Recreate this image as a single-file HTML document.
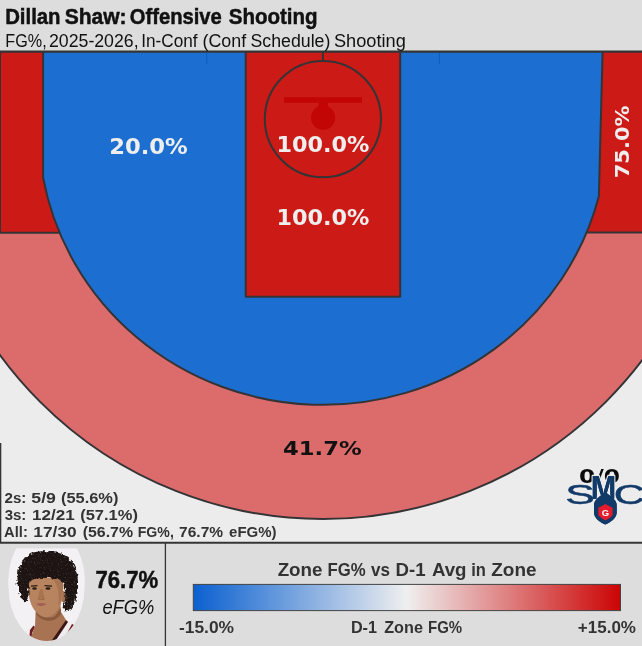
<!DOCTYPE html>
<html><head><meta charset="utf-8">
<style>
html,body{margin:0;padding:0;}
body{width:642px;height:646px;background:#dddddd;overflow:hidden;font-family:"Liberation Sans",sans-serif;}
svg{display:block;position:absolute;left:0;top:0;}
.r{font-family:"Liberation Sans",sans-serif;}
.d{font-family:"DejaVu Sans","Liberation Sans",sans-serif;font-weight:bold;}
</style></head><body>
<svg width="642" height="646" viewBox="0 0 642 646">
  <defs>
    <clipPath id="cc"><rect x="0" y="51" width="642" height="492"/></clipPath>
    <linearGradient id="cb" x1="0" x2="1" y1="0" y2="0">
      <stop offset="0" stop-color="#0a60d0"/>
      <stop offset="0.5" stop-color="#efefef"/>
      <stop offset="1" stop-color="#cc0404"/>
    </linearGradient>
    <clipPath id="face"><path d="M16.400,548.200 L76.800,548.200 A38,54 0 0 1 84.600,587 A38,54 0 0 1 46.500,641 A38,54 0 0 1 8.500,587 A38,54 0 0 1 16.400,548.200 Z"/></clipPath>
    <filter id="curl" x="-20%" y="-20%" width="140%" height="140%" color-interpolation-filters="sRGB"><feTurbulence type="fractalNoise" baseFrequency="0.35" numOctaves="2" seed="3" result="n"/><feDisplacementMap in="SourceGraphic" in2="n" scale="5" xChannelSelector="R" yChannelSelector="G" result="d"/><feTurbulence type="fractalNoise" baseFrequency="0.7" numOctaves="2" seed="8" result="n2"/><feColorMatrix in="n2" type="matrix" values="0 0 0 0 0.27  0 0 0 0 0.2  0 0 0 0 0.17  0 0 0 4 -2.25" result="sp"/><feComposite in="sp" in2="d" operator="in" result="s2"/><feMerge><feMergeNode in="d"/><feMergeNode in="s2"/></feMerge></filter>
    <filter id="soft" x="-5%" y="-5%" width="110%" height="110%"><feGaussianBlur stdDeviation="0.45"/></filter>
  </defs>
  <rect x="0" y="0" width="642" height="646" fill="#dddddd"/>
  <rect x="0" y="51" width="642" height="492" fill="#ececec"/>
  <g clip-path="url(#cc)" stroke="#343436" stroke-width="2" stroke-linejoin="round">
    <!-- outer 3pt zone -->
    <circle cx="323" cy="119" r="400" fill="#dc6c6c"/>
    <rect x="-5" y="40" width="652" height="193" fill="#dc6c6c" stroke="none"/>
    <!-- corners -->
    <rect x="-5" y="40" width="80" height="192.700" fill="#cc1a16"/>
    <rect x="570" y="40" width="80" height="192.400" fill="#cc1a16"/>
    <!-- mid-range (blue) -->
    <path d="M43.100,40 L43.100,177.600 A284.519,276.655 0 0 0 598.850,196.140 L602.900,40 Z" fill="#1c6fd0"/>
    <!-- paint -->
    <rect x="245.700" y="40" width="154.500" height="256.800" fill="#cc1a16"/>
    <circle cx="322.900" cy="119.100" r="58.100" fill="#cc1a16"/>
    <line x1="322.900" y1="52" x2="322.900" y2="61"/>
    <line x1="206.800" y1="52" x2="206.800" y2="64.400" stroke="#0f5cbc" stroke-width="1"/>
    <line x1="439.400" y1="52" x2="439.400" y2="64.400" stroke="#0f5cbc" stroke-width="1"/>
  </g>
  <!-- hoop -->
  <g fill="#c20505" stroke="none">
    <rect x="284" y="97.200" width="78" height="5.600"/>
    <rect x="318.400" y="100" width="9.400" height="8"/>
    <circle cx="323.100" cy="117.700" r="12.100"/>
  </g>
  <line x1="0" y1="51.700" x2="642" y2="51.700" stroke="#343436" stroke-width="2.300"/>
  <line x1="0.100" y1="52" x2="0.100" y2="233" stroke="#333" stroke-width="1.800"/>
  <line x1="0.300" y1="443" x2="0.300" y2="543" stroke="#343436" stroke-width="2"/>
  <line x1="0" y1="542.750" x2="642" y2="542.750" stroke="#343436" stroke-width="1.900"/>
  <line x1="165.400" y1="543" x2="165.400" y2="646" stroke="#343436" stroke-width="1.300"/>

  <g class="d" text-anchor="middle" fill="#eeeeee" lengthAdjust="spacingAndGlyphs">
    <text x="148.450" y="154.300" font-size="21" textLength="78.600" lengthAdjust="spacingAndGlyphs">20.0%</text>
    <text x="322.950" y="151.500" font-size="20.500" textLength="93" lengthAdjust="spacingAndGlyphs">100.0%</text>
    <text x="322.950" y="225.100" font-size="20.500" textLength="93" lengthAdjust="spacingAndGlyphs">100.0%</text>
    <text transform="translate(629.300,141.850) rotate(-90)" font-size="20.300" textLength="72.800" lengthAdjust="spacingAndGlyphs">75.0%</text>
    <text x="322.300" y="454.900" font-size="20.200" fill="#111" textLength="78.600" lengthAdjust="spacingAndGlyphs">41.7%</text>
  </g>

  <!-- titles -->
  <g class="r">
    <text x="5.14" y="23.7" font-size="22.1" font-weight="bold" fill="#111" stroke="#111" stroke-width="0.5" textLength="55.42" lengthAdjust="spacingAndGlyphs">Dillan</text>
    <text x="64.69" y="23.7" font-size="22.1" font-weight="bold" fill="#111" stroke="#111" stroke-width="0.5" textLength="61.93" lengthAdjust="spacingAndGlyphs">Shaw:</text>
    <text x="129.77" y="23.7" font-size="22.1" font-weight="bold" fill="#111" stroke="#111" stroke-width="0.5" textLength="92.02" lengthAdjust="spacingAndGlyphs">Offensive</text>
    <text x="228.71" y="23.7" font-size="22.1" font-weight="bold" fill="#111" stroke="#111" stroke-width="0.5" textLength="88.97" lengthAdjust="spacingAndGlyphs">Shooting</text>
    <text x="5.37" y="46.7" font-size="18.9" fill="#111" textLength="41.28" lengthAdjust="spacingAndGlyphs">FG%,</text>
    <text x="49.01" y="46.7" font-size="18.9" fill="#111" textLength="89.58" lengthAdjust="spacingAndGlyphs">2025-2026,</text>
    <text x="141.22" y="46.7" font-size="18.9" fill="#111" textLength="56.26" lengthAdjust="spacingAndGlyphs">In-Conf</text>
    <text x="202.49" y="46.7" font-size="18.9" fill="#111" textLength="43.78" lengthAdjust="spacingAndGlyphs">(Conf</text>
    <text x="250.49" y="46.7" font-size="18.9" fill="#111" textLength="79.91" lengthAdjust="spacingAndGlyphs">Schedule)</text>
    <text x="333.97" y="46.7" font-size="18.9" fill="#111" textLength="71.80" lengthAdjust="spacingAndGlyphs">Shooting</text>
    <text x="95.45" y="587.9" font-size="24.5" font-weight="bold" fill="#111" stroke="#111" stroke-width="0.5" textLength="62.73" lengthAdjust="spacingAndGlyphs">76.7%</text>
    <text x="102.38" y="614.4" font-size="20.3" font-style="italic" fill="#111" textLength="51.91" lengthAdjust="spacingAndGlyphs">eFG%</text>
    <text x="4.48" y="503.2" font-size="14.3" font-weight="bold" fill="#333" textLength="21.88" lengthAdjust="spacingAndGlyphs">2s:</text>
    <text x="31.36" y="503.2" font-size="14.3" font-weight="bold" fill="#333" textLength="24.60" lengthAdjust="spacingAndGlyphs">5/9</text>
    <text x="60.98" y="503.2" font-size="14.3" font-weight="bold" fill="#333" textLength="57.43" lengthAdjust="spacingAndGlyphs">(55.6%)</text>
    <text x="4.66" y="520.2" font-size="14.3" font-weight="bold" fill="#333" textLength="21.69" lengthAdjust="spacingAndGlyphs">3s:</text>
    <text x="32.02" y="520.2" font-size="14.3" font-weight="bold" fill="#333" textLength="42.75" lengthAdjust="spacingAndGlyphs">12/21</text>
    <text x="80.18" y="520.2" font-size="14.3" font-weight="bold" fill="#333" textLength="57.74" lengthAdjust="spacingAndGlyphs">(57.1%)</text>
    <text x="4.13" y="537.3" font-size="14.3" font-weight="bold" fill="#333" textLength="23.68" lengthAdjust="spacingAndGlyphs">All:</text>
    <text x="33.31" y="537.3" font-size="14.3" font-weight="bold" fill="#333" textLength="43.40" lengthAdjust="spacingAndGlyphs">17/30</text>
    <text x="82.71" y="537.3" font-size="14.3" font-weight="bold" fill="#333" textLength="50.31" lengthAdjust="spacingAndGlyphs">(56.7%</text>
    <text x="137.76" y="537.3" font-size="14.3" font-weight="bold" fill="#333" textLength="36.09" lengthAdjust="spacingAndGlyphs">FG%,</text>
    <text x="179.13" y="537.3" font-size="14.3" font-weight="bold" fill="#333" textLength="43.98" lengthAdjust="spacingAndGlyphs">76.7%</text>
    <text x="229.11" y="537.3" font-size="14.3" font-weight="bold" fill="#333" textLength="47.43" lengthAdjust="spacingAndGlyphs">eFG%)</text>
    <text x="277.64" y="575.7" font-size="19.2" font-weight="bold" fill="#333" textLength="44.90" lengthAdjust="spacingAndGlyphs">Zone</text>
    <text x="327.48" y="575.7" font-size="19.2" font-weight="bold" fill="#333" textLength="38.16" lengthAdjust="spacingAndGlyphs">FG%</text>
    <text x="370.93" y="575.7" font-size="19.2" font-weight="bold" fill="#333" textLength="18.97" lengthAdjust="spacingAndGlyphs">vs</text>
    <text x="395.45" y="575.7" font-size="19.2" font-weight="bold" fill="#333" textLength="30.07" lengthAdjust="spacingAndGlyphs">D-1</text>
    <text x="431.93" y="575.7" font-size="19.2" font-weight="bold" fill="#333" textLength="34.62" lengthAdjust="spacingAndGlyphs">Avg</text>
    <text x="471.15" y="575.7" font-size="19.2" font-weight="bold" fill="#333" textLength="14.68" lengthAdjust="spacingAndGlyphs">in</text>
    <text x="491.23" y="575.7" font-size="19.2" font-weight="bold" fill="#333" textLength="45.31" lengthAdjust="spacingAndGlyphs">Zone</text>
    <text x="179.02" y="633" font-size="16.5" font-weight="bold" fill="#333" textLength="55.04" lengthAdjust="spacingAndGlyphs">-15.0%</text>
    <text x="350.92" y="633.4" font-size="16.5" font-weight="bold" fill="#333" textLength="26.14" lengthAdjust="spacingAndGlyphs">D-1</text>
    <text x="384.22" y="633.4" font-size="16.5" font-weight="bold" fill="#333" textLength="38.74" lengthAdjust="spacingAndGlyphs">Zone</text>
    <text x="428.00" y="633.4" font-size="16.5" font-weight="bold" fill="#333" textLength="34.10" lengthAdjust="spacingAndGlyphs">FG%</text>
    <text x="577.89" y="633" font-size="16.5" font-weight="bold" fill="#333" textLength="58.06" lengthAdjust="spacingAndGlyphs">+15.0%</text>
  </g>

  <!-- 0/0 label + logo -->
  <text class="d" x="599.600" y="483" font-size="20" text-anchor="middle" fill="#0a0a0a" textLength="41" lengthAdjust="spacingAndGlyphs">0/0</text>
  <g id="logo" fill="#123a68" font-family="'Liberation Sans',sans-serif" stroke="#ececec" stroke-width="2.600" paint-order="stroke" stroke-linejoin="round">
    <text transform="translate(590.800,498.600) scale(0.900,1)" font-size="34" font-weight="bold">M</text>
    <path d="M594,505 C594,500 599,497 605.300,492 C611.600,497 616.700,500 616.700,505 L616.700,513 C616,519 610,522.500 605.300,524.600 C600.600,522.500 594.600,519 594,513 Z"/>
  </g>
  <g fill="#123a68" font-family="'Liberation Sans',sans-serif">
    <text transform="translate(565.300,503.800) scale(1.640,1)" font-size="27" stroke="#123a68" stroke-width="0.500">S</text>
    <text transform="translate(613.800,503.800) scale(1.600,1)" font-size="27" stroke="#123a68" stroke-width="0.500">C</text>
    <text transform="translate(590.800,498.600) scale(0.900,1)" font-size="34" font-weight="bold">M</text>
    <path d="M594,505 C594,500 599,497 605.300,492 C611.600,497 616.700,500 616.700,505 L616.700,513 C616,519 610,522.500 605.300,524.600 C600.600,522.500 594.600,519 594,513 Z"/>
    <path d="M598.300,507.800 L605.400,503.900 L612.600,507.800 L612.600,514.500 C612,517 608,519 605.400,520.200 C602.800,519 598.900,517 598.300,514.500 Z" fill="#e31b2c"/>
    <text x="605.500" y="515.800" font-size="9.500" font-weight="bold" text-anchor="middle" fill="#ffffff">G</text>
  </g>
  <!-- colorbar -->
  <rect x="193.300" y="584.400" width="427.200" height="26.200" fill="url(#cb)" stroke="#444" stroke-width="1"/>
  <!-- photo -->
  <g clip-path="url(#face)">
    <rect x="0" y="548.200" width="100" height="100" fill="#f4f1f4"/>
    <g filter="url(#soft)">
    <!-- jersey -->
    <path d="M20,646 L24,632 L34,625 L62,618 L74,623 L84,632 L86,646 Z" fill="#f1edef"/>
    <path d="M28.500,646 L30,630 L33.500,625.500 L35,627 L32,633 L31,646 Z" fill="#6e1c20"/>
    <path d="M60,646 L72,624 L76,626 L66,646 Z" fill="#6e1c20"/>
    <!-- neck -->
    <path d="M36,604 L35,626 L32,634 L31,646 L50,646 L64,626 L66,620 L61,612 L60,600 Z" fill="#a87352"/>
    <path d="M36,606 C40,616 48,620 55,616 L61,608 L61,614 C56,622 44,624 36,614 Z" fill="#8a5a3e"/>
    <path d="M48,646 L66,620 L68,622 L52,646 Z" fill="#3a1414"/>
    <!-- ear -->
    <ellipse cx="63.500" cy="596.500" rx="3" ry="5.500" fill="#a56e4e"/>
    <!-- face -->
    <path d="M28.500,578 C27.500,590 28.500,600 33,608 C37,614 42,617.500 46.500,617.500 C52,617 57,612 60.500,605 C63,598 64,588 62.500,577 Z" fill="#b8845f"/>
    <path d="M52,578 C58,584 60,596 58,606 C60,604 62,598 63,590 L62.500,577 Z" fill="#a06c4c" opacity="0.700"/>
    <!-- brows/eyes -->
    <path d="M31,585.500 L37.500,585 L37.500,586.200 L31,586.800 Z" fill="#2a1a14"/>
    <path d="M44.500,585 L52,585.500 L52,586.800 L44.500,586.200 Z" fill="#2a1a14"/>
    <ellipse cx="34.500" cy="588.500" rx="2.300" ry="1.200" fill="#2b1a14"/>
    <ellipse cx="48" cy="588.500" rx="2.500" ry="1.200" fill="#2b1a14"/>
    <!-- nose -->
    <path d="M40,589 L38,597.500 C39.500,599 43,599 44.500,597.500 L42.500,589 Z" fill="#a9734f"/>
    <path d="M37.800,598 C39.500,599.300 43,599.300 44.800,598 L44,599.500 L38.500,599.500 Z" fill="#7e4e36"/>
    <!-- lips -->
    <path d="M36,604 C39,602.500 43,602.500 46.500,604 C43,606.800 39,606.800 36,604 Z" fill="#a65f58"/>
    </g>
    <!-- hair -->
    <g filter="url(#curl)">
    <path d="M24,601 C20,596 17,588 17.500,578 C17.500,566 24,556 34,552.500 C42,550.500 54,551 62,554 C72,558 77.500,568 78,582 C78.500,594 75,604 70,610 C66,612.500 63,611 63.500,606 C66,600 66,592 64,586 C62,580 58,577.500 52,578.500 C46,577 38,578 33,579.500 C29,581 28.500,586 28.500,592 C29,597 27,602 24,601 Z" fill="#1b1412"/>
    </g>
  </g>
</svg>
</body></html>
